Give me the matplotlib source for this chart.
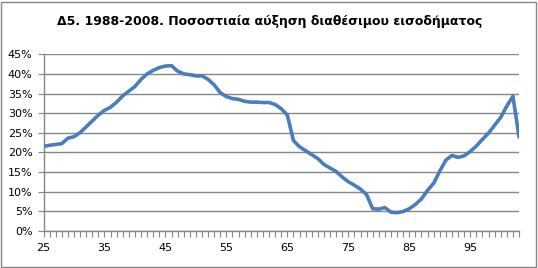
import matplotlib
matplotlib.use("Agg")
import matplotlib.pyplot as plt
from matplotlib.patches import Rectangle
from matplotlib.ticker import FuncFormatter, FixedLocator

title = "Δ5. 1988-2008. Ποσοστιαία αύξηση διαθέσιμου εισοδήματος"
ages = list(range(25, 104))
growth = [21.5, 21.8, 22.0, 22.2, 23.6, 24.0, 25.0, 26.5, 28.0, 29.5,
          30.7, 31.5, 32.8, 34.4, 35.6, 36.8, 38.6, 40.0, 40.9, 41.6,
          42.0, 42.1, 40.7, 40.0, 39.8, 39.5, 39.5, 38.6, 37.2, 35.2,
          34.2, 33.7, 33.5, 33.0, 32.8, 32.8, 32.7, 32.7, 32.2, 31.1,
          29.5, 23.0, 21.4, 20.4, 19.4, 18.4, 16.9, 16.0, 15.1, 13.7,
          12.5, 11.6, 10.6, 9.2, 5.6, 5.5, 5.9, 4.7, 4.6, 4.9,
          5.6, 6.7, 8.1, 10.3, 12.1, 15.2, 18.0, 19.2, 18.7, 19.1,
          20.2, 21.6, 23.3, 24.9, 26.9, 28.9, 31.8, 34.3, 24.0]
x_labels = [25, 35, 45, 55, 65, 75, 85, 95]
y_ticks = [0, 5, 10, 15, 20, 25, 30, 35, 40, 45]

W, H = 538, 268
fig = plt.figure(figsize=(W / 100, H / 100), dpi=100)
ax = fig.add_axes([43.5 / W, 1 - 230.7 / H, (519 - 43.5) / W, (230.7 - 54.3) / H])

grid_c = "#868686"
ax.set_ylim(0, 45)
ax.set_xlim(ages[0], ages[-1])
ax.yaxis.set_major_locator(FixedLocator(y_ticks))
ax.yaxis.set_major_formatter(FuncFormatter(lambda v, p: f"{int(v)}%"))
ax.grid(axis="y", color=grid_c, linewidth=1.0)
ax.set_axisbelow(True)

ax.set_xticks(ages)
ax.set_xticklabels([str(a) if a in x_labels else "" for a in ages])

ax.plot(ages, growth, color="#4A7EBB", linewidth=2.6, solid_joinstyle="round", zorder=3)

for s in ["top", "right"]:
    ax.spines[s].set_visible(False)
for s in ["left", "bottom"]:
    ax.spines[s].set_color(grid_c)
    ax.spines[s].set_linewidth(1.0)

ax.tick_params(axis="both", colors=grid_c, length=4, width=0.8, labelcolor="black",
               labelsize=8)
ax.tick_params(axis="x", pad=5)
ax.tick_params(axis="y", pad=4)

fig.text(270 / W, 1 - 21 / H, title, ha="center", va="center", fontsize=9,
         fontweight="bold", family=["DejaVu Sans"])

fig.patches.append(Rectangle((1 / W, 1.5 / H), (535.5 - 1) / W, (266.5 - 1.5) / H,
                             transform=fig.transFigure, fill=False,
                             edgecolor=grid_c, linewidth=1.0))

fig.savefig("out.png", dpi=100)
